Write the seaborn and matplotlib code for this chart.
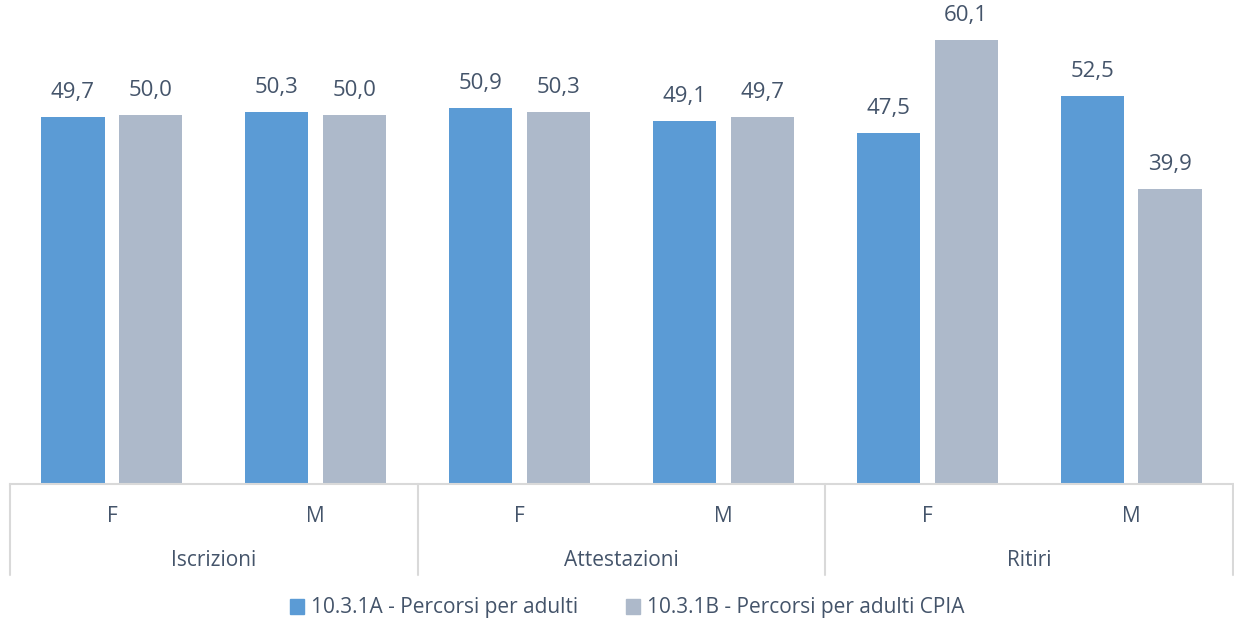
import matplotlib
matplotlib.use("Agg")
import matplotlib.pyplot as plt
import matplotlib.patheffects as pe
from matplotlib.transforms import blended_transform_factory
import seaborn as sns
import pandas as pd

# data
groups = ["Iscrizioni", "Attestazioni", "Ritiri"]
sexes = ["F", "M"]
serie_a = [49.7, 50.3, 50.9, 49.1, 47.5, 52.5]
serie_b = [50.0, 50.0, 50.3, 49.7, 60.1, 39.9]
series_names = ["10.3.1A - Percorsi per adulti", "10.3.1B - Percorsi per adulti CPIA"]

keys = [f"{g} {s}" for g in groups for s in sexes]
df = pd.DataFrame({
    "cat": keys * 2,
    "val": serie_a + serie_b,
    "serie": [series_names[0]] * 6 + [series_names[1]] * 6,
})

sns.set_theme(style="white")
plt.rcParams["font.family"] = ["Open Sans", "DejaVu Sans"]
txt_col = "#44546A"
line_col = "#D9D9D9"
colors = ["#5B9BD5", "#ADB9CA"]

fig = plt.figure(figsize=(12.34, 6.25), dpi=100)
ax = fig.add_axes([10 / 1234, 141 / 625, 1223 / 1234, 484 / 625])

sns.barplot(data=df, x="cat", y="val", hue="serie", order=keys,
            hue_order=series_names, palette=colors, saturation=1,
            width=0.765, gap=0.19, linewidth=0, ax=ax, legend=False)

shadow = [pe.SimplePatchShadow(offset=(0, -2), shadow_rgbFace="#000000", alpha=0.18), pe.Normal()]
for cont in ax.containers:
    for bar in cont:
        bar.set_path_effects(shadow)
    ax.bar_label(cont, labels=[f"{v:.1f}".replace(".", ",") for v in cont.datavalues],
                 padding=10, fontsize=16, color=txt_col)

ax.set_xlim(-0.5, 5.5)
ax.set_ylim(0, 65.5)
ax.set_yticks([])
ax.set_xlabel("")
ax.set_ylabel("")
for sp in ["top", "right", "left"]:
    ax.spines[sp].set_visible(False)
ax.spines["bottom"].set_color(line_col)
ax.spines["bottom"].set_linewidth(1.5)

ax.set_xticks(range(6))
ax.set_xticklabels(sexes * 3, fontsize=15, color=txt_col)
ax.tick_params(axis="x", length=0, pad=16)

tr = blended_transform_factory(ax.transData, ax.transAxes)
# group separators and group labels
for i in range(4):
    ax.plot([i * 2 - 0.5, i * 2 - 0.5], [0, -91 / 484], transform=tr,
            color=line_col, lw=1.5, clip_on=False)
for i, g in enumerate(groups):
    ax.text(i * 2 + 0.5, -76 / 484, g, transform=tr, ha="center", va="center",
            fontsize=15, color=txt_col)

handles = [plt.Rectangle((0, 0), 1, 1, color=c) for c in colors]
leg = fig.legend(handles, series_names, loc="center", bbox_to_anchor=(627 / 1234, 1 - 608 / 625),
                 ncol=2, frameon=False, fontsize=15, handlelength=0.7, handleheight=0.7,
                 handletextpad=0.3, columnspacing=2.3)
for t in leg.get_texts():
    t.set_color(txt_col)

fig.savefig("out.png", dpi=100, facecolor="white")
